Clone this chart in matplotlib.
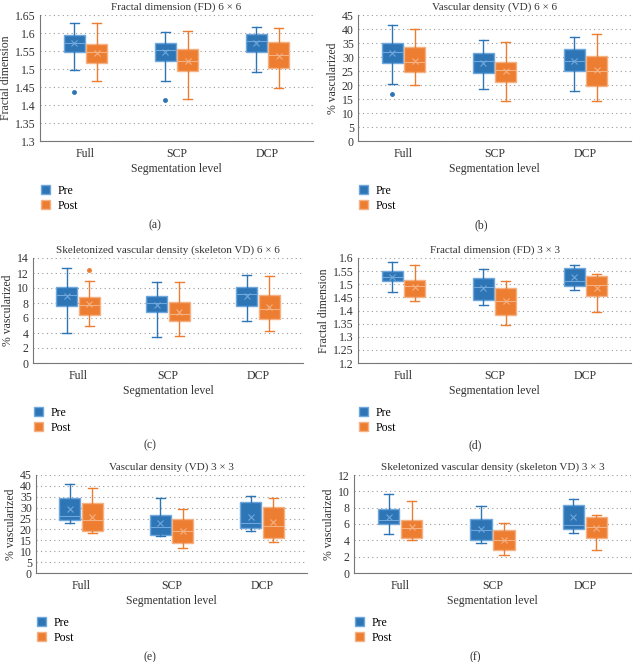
import matplotlib
matplotlib.use('Agg')
import matplotlib.pyplot as plt
from matplotlib.patches import Patch
import numpy as np

plt.rcParams['font.family'] = ['Liberation Serif', 'DejaVu Serif']

categories = ['Full', 'SCP', 'DCP']
series_names = ['Pre', 'Post']

# each row: [whislo, q1, median, q3, whishi, mean] for Full, SCP, DCP
fd6_pre = [[1.496, 1.546, 1.573, 1.594, 1.629, 1.571],
           [1.467, 1.523, 1.553, 1.573, 1.604, 1.546],
           [1.491, 1.547, 1.578, 1.596, 1.618, 1.571]]
fd6_post = [[1.468, 1.516, 1.546, 1.570, 1.627, 1.544],
            [1.417, 1.494, 1.523, 1.555, 1.606, 1.522],
            [1.447, 1.502, 1.539, 1.574, 1.615, 1.536]]
fd6_pre_out = [[1.437], [1.415], []]
fd6_post_out = [[], [], []]

vd6_pre = [[20.2, 27.8, 31.9, 34.9, 41.4, 31.3],
           [18.5, 24.2, 28.4, 31.3, 35.9, 27.8],
           [17.7, 25.0, 28.7, 32.9, 37.0, 28.6]]
vd6_post = [[20.1, 24.8, 28.1, 33.4, 40.0, 28.7],
            [14.4, 20.9, 25.2, 28.1, 35.5, 25.0],
            [14.4, 19.8, 25.0, 30.5, 38.1, 25.4]]
vd6_pre_out = [[16.7], [], []]
vd6_post_out = [[], [], []]

svd6_pre = [[4.0, 7.56, 9.07, 10.13, 12.67, 8.98],
            [3.47, 6.76, 8.0, 8.89, 10.76, 7.78],
            [5.6, 7.56, 9.24, 10.13, 11.73, 8.98]]
svd6_post = [[4.89, 6.44, 7.73, 8.8, 10.9, 7.87],
             [3.64, 5.56, 6.53, 8.09, 10.84, 6.84],
             [4.27, 5.87, 7.2, 9.07, 11.56, 7.47]]
svd6_pre_out = [[], [], []]
svd6_post_out = [[12.44], [], []]

fd3_pre = [[1.469, 1.512, 1.526, 1.549, 1.584, 1.527],
           [1.422, 1.441, 1.488, 1.523, 1.559, 1.486],
           [1.478, 1.492, 1.511, 1.562, 1.574, 1.526]]
fd3_post = [[1.438, 1.450, 1.492, 1.518, 1.572, 1.490],
            [1.346, 1.384, 1.435, 1.486, 1.511, 1.435],
            [1.395, 1.454, 1.498, 1.530, 1.539, 1.486]]
fd3_pre_out = [[], [], []]
fd3_post_out = [[], [], []]

vd3_pre = [[22.9, 24.4, 26.2, 34.3, 40.7, 29.3],
           [16.8, 17.5, 21.1, 26.8, 34.3, 22.9],
           [19.4, 20.6, 22.9, 32.5, 35.5, 25.9]]
vd3_post = [[18.3, 19.1, 24.4, 32.3, 38.9, 25.6],
            [11.4, 14.0, 19.5, 24.7, 29.4, 19.5],
            [14.2, 16.0, 21.8, 30.5, 34.3, 23.6]]
vd3_pre_out = [[], [], []]
vd3_post_out = [[], [], []]

svd3_pre = [[4.76, 5.98, 6.51, 7.85, 9.64, 6.91],
            [3.66, 3.99, 5.29, 6.63, 8.26, 5.37],
            [4.88, 5.41, 5.9, 8.34, 9.11, 6.83]]
svd3_post = [[3.99, 4.23, 5.49, 6.47, 8.87, 5.61],
             [2.2, 2.85, 3.99, 5.29, 6.1, 3.99],
             [2.85, 4.27, 5.61, 6.91, 7.08, 5.53]]
svd3_pre_out = [[], [], []]
svd3_post_out = [[], [], []]

titles = ['Fractal dimension (FD) 6 \u00d7 6', 'Vascular density (VD) 6 \u00d7 6',
          'Skeletonized vascular density (skeleton VD) 6 \u00d7 6', 'Fractal dimension (FD) 3 \u00d7 3',
          'Vascular density (VD) 3 \u00d7 3', 'Skeletonized vascular density (skeleton VD) 3 \u00d7 3']
ylabels = ['Fractal dimension', '% vascularized', '% vascularized',
           'Fractal dimension', '% vascularized', '% vascularized']
yticks = [np.arange(1.3, 1.651, 0.05), np.arange(0, 46, 5), np.arange(0, 15, 2),
          np.arange(1.2, 1.601, 0.05), np.arange(0, 46, 5), np.arange(0, 13, 2)]
panel_tags = ['(a)', '(b)', '(c)', '(d)', '(e)', '(f)']

panels = [(fd6_pre, fd6_post, fd6_pre_out, fd6_post_out),
          (vd6_pre, vd6_post, vd6_pre_out, vd6_post_out),
          (svd6_pre, svd6_post, svd6_pre_out, svd6_post_out),
          (fd3_pre, fd3_post, fd3_pre_out, fd3_post_out),
          (vd3_pre, vd3_post, vd3_pre_out, vd3_post_out),
          (svd3_pre, svd3_post, svd3_pre_out, svd3_post_out)]

W, H = 637, 662
# axes boxes in pixels: left, right, top, bottom
boxes = [(40, 313, 15, 141), (358, 631, 15, 141),
         (33, 303, 258, 363), (358, 631, 258, 363),
         (36, 307, 475, 573), (354, 631, 475, 573)]
tag_pos = [(155, 225), (481, 225), (150, 445), (475, 445), (150, 657), (475, 657)]

face = ['#2e75b6', '#ed7d31']
edge = ['#6fa8dc', '#f4b183']

fig = plt.figure(figsize=(W / 100, H / 100), dpi=100)

for k in range(6):
    l, r, t, b = boxes[k]
    ax = fig.add_axes([l / W, 1 - b / H, (r - l) / W, (b - t) / H])
    pre, post, pre_out, post_out = panels[k]
    for s, (vals, outs) in enumerate([(pre, pre_out), (post, post_out)]):
        stats = []
        for i in range(3):
            lo, q1, med, q3, hi, mean = vals[i]
            stats.append(dict(whislo=lo, q1=q1, med=med, q3=q3, whishi=hi,
                              mean=mean, fliers=outs[i]))
        pos = np.arange(3) + (-0.125 if s == 0 else 0.125)
        ax.bxp(stats, positions=pos, widths=0.23, patch_artist=True, showmeans=True,
               boxprops=dict(facecolor=face[s], edgecolor=edge[s], linewidth=1),
               whiskerprops=dict(color=face[s], linewidth=1),
               capprops=dict(color=face[s], linewidth=1),
               capwidths=0.1,
               medianprops=dict(color=edge[s], linewidth=0.8),
               meanprops=dict(marker='x', markeredgecolor=edge[s], markersize=4,
                              markeredgewidth=0.8),
               flierprops=dict(marker='o', markerfacecolor=face[s], markeredgecolor=face[s],
                               markersize=2.5))
    ax.set_xlim(-0.5, 2.5)
    ax.set_ylim(yticks[k][0], yticks[k][-1])
    ax.set_yticks(yticks[k])
    if yticks[k][-1] < 2:
        ax.set_yticklabels(['%g' % round(v, 2) for v in yticks[k]])
    ax.set_xticks(range(3))
    ax.set_xticklabels(categories)
    ax.tick_params(axis='y', length=0, labelsize=8.5, colors='#333333', pad=3)
    ax.tick_params(axis='x', length=0, labelsize=8.5, colors='#333333', pad=5)
    ax.grid(axis='y', linestyle=(0, (1, 3)), color='#999999', linewidth=0.8)
    ax.set_axisbelow(True)
    for sp in ['top', 'right']:
        ax.spines[sp].set_visible(False)
    for sp in ['left', 'bottom']:
        ax.spines[sp].set_color('#777777')
        ax.spines[sp].set_linewidth(0.8)
    ax.set_title(titles[k], fontsize=8, pad=4, color='#333333')
    ax.set_ylabel(ylabels[k], fontsize=8.5, labelpad=2, color='#333333')
    ax.set_xlabel('Segmentation level', fontsize=8.5, labelpad=2, color='#333333')
    handles = [Patch(facecolor=face[0], edgecolor=edge[0], label=series_names[0]),
               Patch(facecolor=face[1], edgecolor=edge[1], label=series_names[1])]
    ax.legend(handles=handles, loc='upper left', frameon=False, fontsize=8.5,
              handlelength=0.8, handleheight=0.8, handletextpad=0.6, labelspacing=0.25,
              borderpad=0, bbox_to_anchor=((l - 5) / W, 1 - (b + 38) / H),
              bbox_transform=fig.transFigure)
    fig.text(tag_pos[k][0] / W, 1 - tag_pos[k][1] / H, panel_tags[k], ha='center',
             va='center', fontsize=8.5, color='#333333')

fig.savefig('out.png', dpi=100)
